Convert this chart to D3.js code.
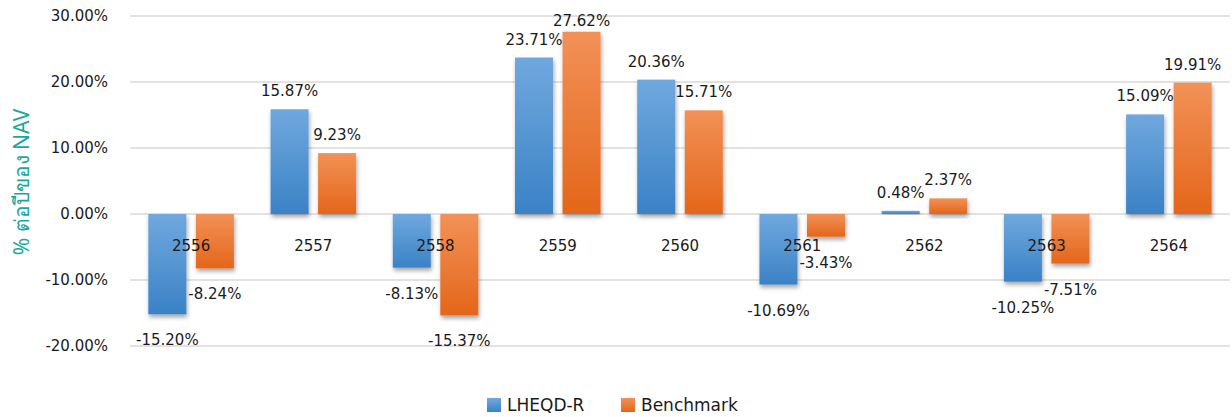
<!DOCTYPE html>
<html>
<head>
<meta charset="utf-8">
<script src="https://cdn.jsdelivr.net/npm/d3@7"></script>
<style>
  html, body { margin: 0; padding: 0; background: #fff; }
  svg { display: block; font-family: "DejaVu Sans", "Noto Sans", sans-serif; }
</style>
</head>
<body>
<svg id="chart" width="1232" height="417"></svg>
<script>
// Annual returns by Thai (B.E.) year
const years = ["2556", "2557", "2558", "2559", "2560", "2561", "2562", "2563", "2564"];
const fundReturns = [-15.20, 15.87, -8.13, 23.71, 20.36, -10.69, 0.48, -10.25, 15.09];
const benchmarkReturns = [-8.24, 9.23, -15.37, 27.62, 15.71, -3.43, 2.37, -7.51, 19.91];
const seriesNames = ["LHEQD-R", "Benchmark"];
const yTicks = [-20, -10, 0, 10, 20, 30];

const svg = d3.select("#chart");
const plot = { left: 130, right: 1230, top: 16, bottom: 346 };

const defs = svg.append("defs");
const grads = [
  { id: "gBlue", top: "#70a8de", bottom: "#3a82c6" },
  { id: "gOrange", top: "#f29157", bottom: "#e4661a" }
];
grads.forEach(g => {
  const lg = defs.append("linearGradient").attr("id", g.id)
    .attr("x1", 0).attr("y1", 0).attr("x2", 0).attr("y2", 1);
  lg.append("stop").attr("offset", "0%").attr("stop-color", g.top);
  lg.append("stop").attr("offset", "100%").attr("stop-color", g.bottom);
});
const f = defs.append("filter").attr("id", "shadow")
  .attr("x", "-20%").attr("y", "-20%").attr("width", "150%").attr("height", "150%");
f.append("feDropShadow").attr("dx", 1).attr("dy", 3).attr("stdDeviation", 2)
  .attr("flood-color", "#000").attr("flood-opacity", 0.35);

const y = d3.scaleLinear().domain([-20, 30]).range([plot.bottom, plot.top]);
const x0 = d3.scaleBand().domain(years).range([plot.left, plot.right])
  .paddingInner(0.3).paddingOuter(0.15);
const x1 = d3.scaleBand().domain(seriesNames).range([0, x0.bandwidth()])
  .paddingInner(0.2).paddingOuter(0);

// gridlines
svg.append("g").selectAll("line").data(yTicks).join("line")
  .attr("x1", plot.left).attr("x2", plot.right)
  .attr("y1", d => y(d)).attr("y2", d => y(d))
  .attr("stroke", "#d9d9d9").attr("stroke-width", 1.5);

// y axis labels
const yAxis = d3.axisLeft(y).tickValues(yTicks).tickSize(0).tickPadding(0)
  .tickFormat(d => d.toFixed(2) + "%");
const ya = svg.append("g").attr("transform", `translate(108,0)`).call(yAxis);
ya.select(".domain").remove();
ya.selectAll("text").attr("font-size", 15).attr("fill", "#1a1a1a")
  .attr("font-family", "DejaVu Sans, Noto Sans, sans-serif");

// y axis title
svg.append("text")
  .attr("transform", `translate(29,182) rotate(-90)`)
  .attr("text-anchor", "middle")
  .attr("font-family", "Noto Sans, DejaVu Sans, sans-serif")
  .attr("font-size", 21)
  .attr("fill", "#1aa89b")
  .text("% ต่อปีของ NAV");

const rows = years.map((yr, i) => ({
  year: yr,
  vals: [
    { s: seriesNames[0], v: fundReturns[i], fill: "url(#gBlue)" },
    { s: seriesNames[1], v: benchmarkReturns[i], fill: "url(#gOrange)" }
  ]
}));

const groups = svg.append("g").selectAll("g").data(rows).join("g")
  .attr("transform", d => `translate(${x0(d.year)},0)`);

groups.selectAll("rect").data(d => d.vals).join("rect")
  .attr("x", d => x1(d.s))
  .attr("width", x1.bandwidth())
  .attr("y", d => y(Math.max(0, d.v)))
  .attr("height", d => Math.abs(y(d.v) - y(0)))
  .attr("fill", d => d.fill)
  .attr("filter", "url(#shadow)");

// category labels
svg.append("g").selectAll("text").data(years).join("text")
  .attr("x", d => x0(d) + x0.bandwidth() / 2)
  .attr("y", y(0) + 37)
  .attr("text-anchor", "middle")
  .attr("font-size", 15)
  .attr("fill", "#1a1a1a")
  .text(d => d);

// value labels (kept inside the chart area at the top)
groups.selectAll("text.val").data(d => d.vals).join("text")
  .attr("class", "val")
  .attr("x", d => x1(d.s) + x1.bandwidth() / 2)
  .attr("y", d => d.v >= 0 ? Math.max(y(d.v) - 13, 26) : y(d.v) + 31)
  .attr("text-anchor", "middle")
  .attr("font-size", 15)
  .attr("fill", "#1a1a1a")
  .text(d => d.v.toFixed(2) + "%");

// legend
const legend = svg.append("g").attr("transform", "translate(487,398)");
const legendItems = [
  { name: seriesNames[0], fill: "url(#gBlue)", x: 0 },
  { name: seriesNames[1], fill: "url(#gOrange)", x: 134 }
];
legendItems.forEach(it => {
  legend.append("rect").attr("x", it.x).attr("y", 0).attr("width", 14).attr("height", 14)
    .attr("fill", it.fill);
  legend.append("text").attr("x", it.x + 20).attr("y", 13)
    .attr("font-size", 17).attr("fill", "#1a1a1a").text(it.name);
});
</script>
</body>
</html>
